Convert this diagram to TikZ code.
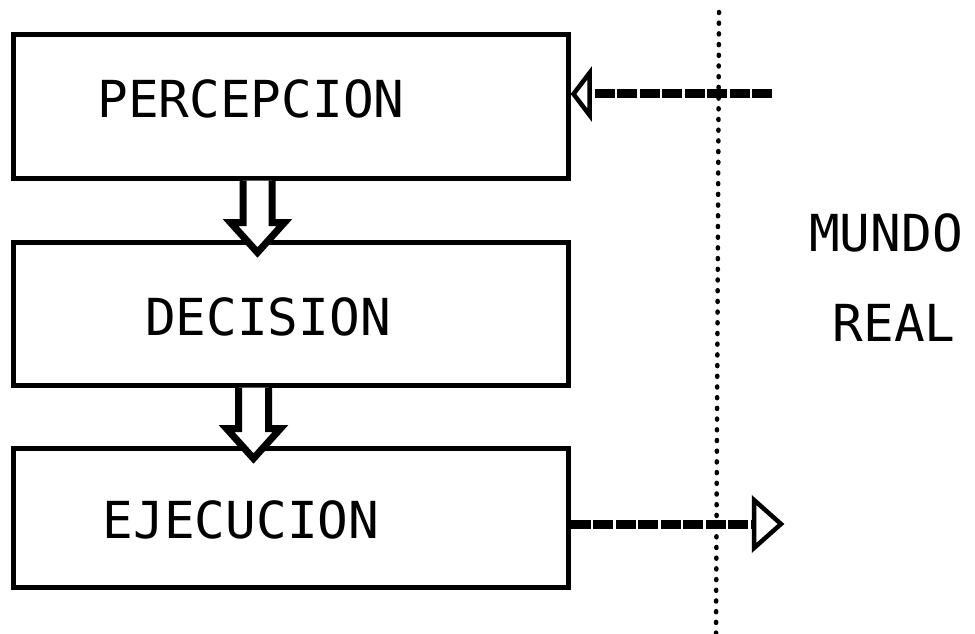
\documentclass[tikz,border=0pt]{standalone}
\usepackage{fontspec}
\newfontfamily\lcd{DejaVu Sans Mono}
\usetikzlibrary{calc}
\begin{document}
\begin{tikzpicture}[x=1pt,y=-1pt,
  boxnode/.style={draw=black,line width=5pt,minimum width=555pt,inner sep=0pt,fill=none},
  lbl/.style={inner sep=0pt,font=\lcd\fontsize{51}{60}\selectfont},
  barrow/.style={draw=black,fill=white,line width=7pt,line join=miter},
  shaftline/.style={draw=black,line width=9pt,dash pattern=on 20pt off 2.5pt},
  headtri/.style={draw=black,fill=white,line width=4.5pt,line join=miter},
  dotline/.style={draw=black,line width=4.5pt,line cap=round,dash pattern=on 1pt off 9.7pt}]
\useasboundingbox[fill=white] (0,0) rectangle (975,634);
% boxes
\node[boxnode,minimum height=143pt] (perc) at (290.5,106.5) {};
\node[boxnode,minimum height=143pt] (deci) at (290.5,313.5) {};
\node[boxnode,minimum height=139pt] (ejec) at (290.5,517.5) {};
% labels
\node[lbl] (tperc) at (251,99) {PERCEPCION};
\node[lbl] (tdeci) at (268,317) {DECISION};
\node[lbl] (tejec) at (241,520) {EJECUCION};
\node[lbl] (mundo) at (886,233) {MUNDO};
\node[lbl] (real) at (894,323) {REAL};
% dotted boundary
\coordinate (dtop) at (719,12);
\coordinate (dbot) at (716,634);
\draw[dotline] (dtop) -- (dbot);
% vertical block arrows
\draw[barrow] let \p1=([xshift=-33pt]perc.south), \p2=([xshift=-33pt,yshift=-13pt]deci.north) in
  (\x1-14.5pt,\y1) -- (\x1-14.5pt,\y2+30pt) -- (\x1-27pt,\y2+30pt) -- (\x1,\y2)
  -- (\x1+27pt,\y2+30pt) -- (\x1+14.5pt,\y2+30pt) -- (\x1+14.5pt,\y1);
\draw[barrow] let \p1=([xshift=-37pt]deci.south), \p2=([xshift=-37pt,yshift=-13pt]ejec.north) in
  (\x1-15pt,\y1) -- (\x1-15pt,\y2+30pt) -- (\x1-27pt,\y2+30pt) -- (\x1,\y2)
  -- (\x1+27pt,\y2+30pt) -- (\x1+15pt,\y2+30pt) -- (\x1+15pt,\y1);
% input arrow (world -> perception)
\coordinate (inS) at (772,94);
\draw[shaftline] (inS) -- ([xshift=16pt]perc.east |- inS);
\draw[headtri] ([xshift=3pt]perc.east |- inS) -- ++(16,-21) -- ++(0,42) -- cycle;
% output arrow (execution -> world)
\coordinate (outE) at (781,524);
\draw[shaftline] (ejec.east |- outE) -- ([xshift=-27pt]outE);
\draw[headtri] (outE) -- ++(-27,-24) -- ++(0,48) -- cycle;
\end{tikzpicture}
\end{document}
